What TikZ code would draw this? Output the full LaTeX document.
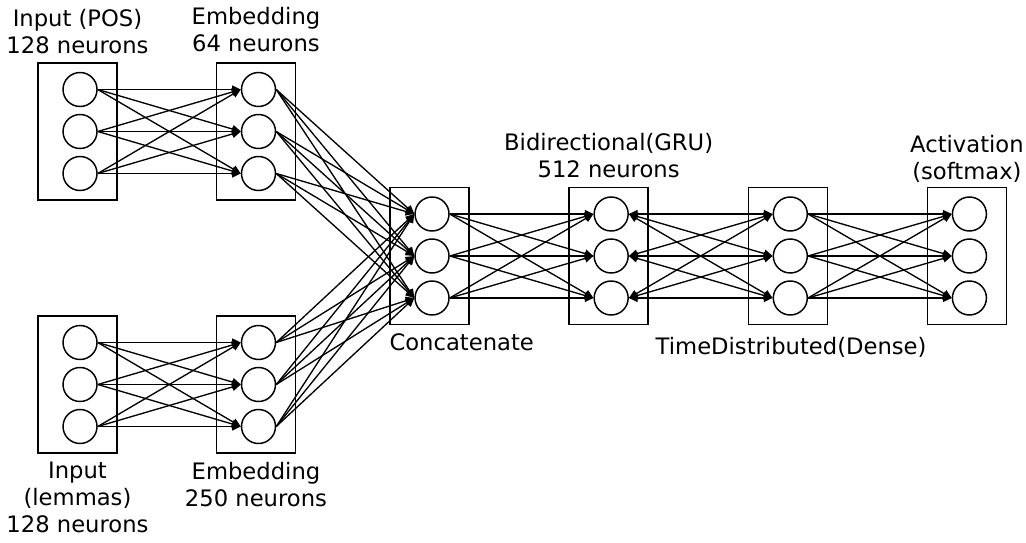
\documentclass[tikz,border=0pt]{standalone}
\usepackage{fontspec}
\setmainfont{DejaVu Sans}
\usetikzlibrary{arrows.meta,positioning}
\tikzstyle{Layer}  = [draw, rectangle, line width=1.1pt, minimum width=59.25pt, minimum height=102.75pt, inner sep=0pt]
\tikzstyle{Neuron} = [draw, circle, line width=1.1pt, minimum size=25.5pt, inner sep=0pt]
\tikzstyle{Link}   = [line width=1pt, -{Triangle[length=6.5pt,width=6pt]}]
\tikzstyle{BiLink} = [line width=1pt, {Triangle[length=6.5pt,width=6pt]}-{Triangle[length=6.5pt,width=6pt]}]
\tikzstyle{Text}   = [align=center, inner sep=0pt, font=\fontsize{17}{20.25}\selectfont]

\begin{document}
\begin{tikzpicture}[x=0.75pt, y=-0.75pt]
    \useasboundingbox (0,0) rectangle (1026,543);
    % layers
    \node[Layer] (pos)                         at (77.5,131.5) {};
    \node[Layer] (embpos) [right=73.5pt of pos]                {};
    \node[Layer] (lem)                         at (77.5,384.5) {};
    \node[Layer] (emblem) [right=73.5pt of lem]                {};
    \node[Layer] (concat)                      at (429.5,256)  {};
    \node[Layer] (gru)    [right=74pt of concat]               {};
    \node[Layer] (td)     [right=74pt of gru]                  {};
    \node[Layer] (act)    [right=74pt of td]                   {};
    % three neurons per layer
    \foreach \layer in {pos,embpos,lem,emblem,concat,gru,td,act}
        \foreach \n/\dy in {1/31.5pt,2/0pt,3/-31.5pt}
            \node[Neuron, xshift=1.9pt, yshift=\dy] (\layer-\n) at (\layer) {};
    % connections
    \foreach \src/\dst in {pos/embpos,lem/emblem,embpos/concat,emblem/concat,concat/gru,td/act}
        \foreach \i in {1,2,3}
            \foreach \j in {1,2,3}
                \draw[Link] (\src-\i.east) -- (\dst-\j.west);
    \foreach \i in {1,2,3}
        \foreach \j in {1,2,3}
            \draw[BiLink] (gru-\i.east) -- (td-\j.west);
    % labels
    \node[Text] (l_pos)    [above=6pt of pos]     {Input (POS)\\128 neurons};
    \node[Text] (l_embpos) [above=7.5pt of embpos] {Embedding\\64 neurons};
    \node[Text] (l_lem)    [below=6pt of lem]     {Input\\(lemmas)\\128 neurons};
    \node[Text] (l_emblem) [below=6pt of emblem]  {Embedding\\250 neurons};
    \node[Text] (l_concat) [anchor=north west] at ([yshift=-6.5pt]concat.south west) {Concatenate};
    \node[Text] (l_gru)    [above=6.5pt of gru]   {Bidirectional(GRU)\\512 neurons};
    \node[Text] (l_td)     [below=9pt of td, xshift=2.5pt] {TimeDistributed(Dense)};
    \node[Text] (l_act)    [above=3pt of act]     {Activation\\(softmax)};
\end{tikzpicture}
\end{document}
